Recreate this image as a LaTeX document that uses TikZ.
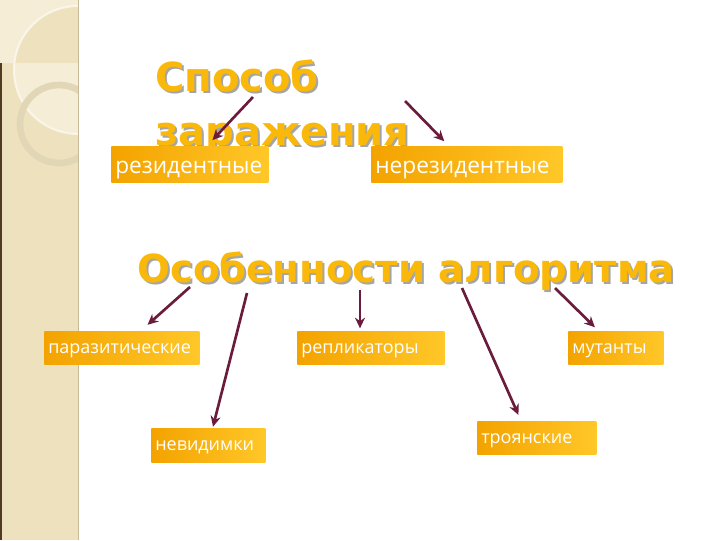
\documentclass[tikz,border=0pt]{standalone}
\usepackage{fontspec}
\usepackage{tikz}
\usetikzlibrary{arrows.meta}
\setmainfont{Open Sans}
\newfontfamily\titlefont{DejaVu Sans}

\definecolor{sidefill}{RGB}{238,226,190}
\definecolor{sidelight}{RGB}{245,237,214}
\definecolor{ringcol}{RGB}{225,215,182}
\definecolor{sideedge}{RGB}{200,186,152}
\definecolor{sideline}{RGB}{80,58,34}
\definecolor{boxdark}{RGB}{243,163,0}
\definecolor{boxlight}{RGB}{255,199,40}
\definecolor{titlecol}{RGB}{249,184,10}
\definecolor{shadowcol}{RGB}{165,165,165}
\definecolor{arrowcol}{RGB}{107,28,60}

\tikzset{
	vbox/.style={shade, left color=boxdark, right color=boxlight, text=white,
		inner xsep=3pt, inner ysep=0pt, align=left, anchor=north west},
	toprow/.style={vbox, font=\fontsize{17}{19}\selectfont, minimum height=27pt,
		text height=14pt, text depth=0pt},
	lowrow/.style={vbox, font=\fontsize{13.5}{16}\selectfont, minimum height=24.75pt,
		text height=8pt, text depth=0pt},
	heading/.style={font=\titlefont\bfseries\fontsize{#1}{40}\selectfont, inner sep=0pt, align=left},
	conn/.style={draw=arrowcol, line width=2pt, -{Stealth[length=8pt,width=7.5pt]}}
}

\begin{document}
\begin{tikzpicture}[x=0.75pt,y=0.75pt,yscale=-1,xscale=1]
	\useasboundingbox (0,0) rectangle (720,540);

	%Shape: Side strip
	\fill[sidefill] (0,0) rectangle (78,540);
	\begin{scope}
		\clip (0,0) rectangle (78,540);
		\fill[sidelight, even odd rule] (0,0) rectangle (78,63) (78,70) circle (64);
		\draw[white, opacity=0.6, line width=1.5pt] (78,70) circle (64);
		\draw[ringcol, line width=5pt] (59,124) circle (39);
	\end{scope}
	\draw[sideedge] (78,0) -- (78,540);
	\draw[sideline, line width=1.5pt] (1,63) -- (1,540);

	% Text Node
	\node (t1s) [heading=30, text=shadowcol, anchor=north west] at (157,62) {Способ\\заражения};
	\node (t1) [heading=30, text=titlecol, anchor=north west] at (155,60) {Способ\\заражения};
	% Text Node
	\node (t2s) [heading=29, text=shadowcol, anchor=base west] at (139,284) {Особенности алгоритма};
	\node (t2) [heading=29, text=titlecol, anchor=base west] at (137,282) {Особенности алгоритма};

	%Shape: Rectangle
	\node (res) [toprow, text width=111.75pt] at (111,146) {резидентные};
	\node (nonres) [toprow, text width=137.25pt] at (371,146) {нерезидентные};
	\node (par) [lowrow, text width=110.25pt] at (44,331) {паразитические};
	\node (rep) [lowrow, text width=104.25pt] at (297,331) {репликаторы};
	\node (mut) [lowrow, text width=65.25pt] at (568,331) {мутанты};
	\node (inv) [lowrow, text width=79.5pt, minimum height=25.5pt] at (151,428) {невидимки};
	\node (troj) [lowrow, text width=83.25pt] at (477,421) {троянские};

	% Starts of arrows
	\coordinate (s1) at (253,97);
	\coordinate (s2) at (405,101);
	\coordinate (s3) at (190,287);
	\coordinate (s4) at (247,293);
	\coordinate (s5) at (360,290);
	\coordinate (s6) at (462,288);
	\coordinate (s7) at (555,288);

	%Straight Lines
	\draw[conn, shorten >=6pt] (s1) -- (res);
	\draw[conn, shorten >=5pt] (s2) -- (nonres);
	\draw[conn, shorten >=7pt] (s3) -- (par);
	\draw[conn, shorten >=1pt] (s4) -- (inv);
	\draw[conn, shorten >=2pt] (s5) -- (s5 |- rep.north);
	\draw[conn, shorten >=5pt] (s6) -- (troj.133);
	\draw[conn, shorten >=4pt] (s7) -- (mut);

\end{tikzpicture}
\end{document}
